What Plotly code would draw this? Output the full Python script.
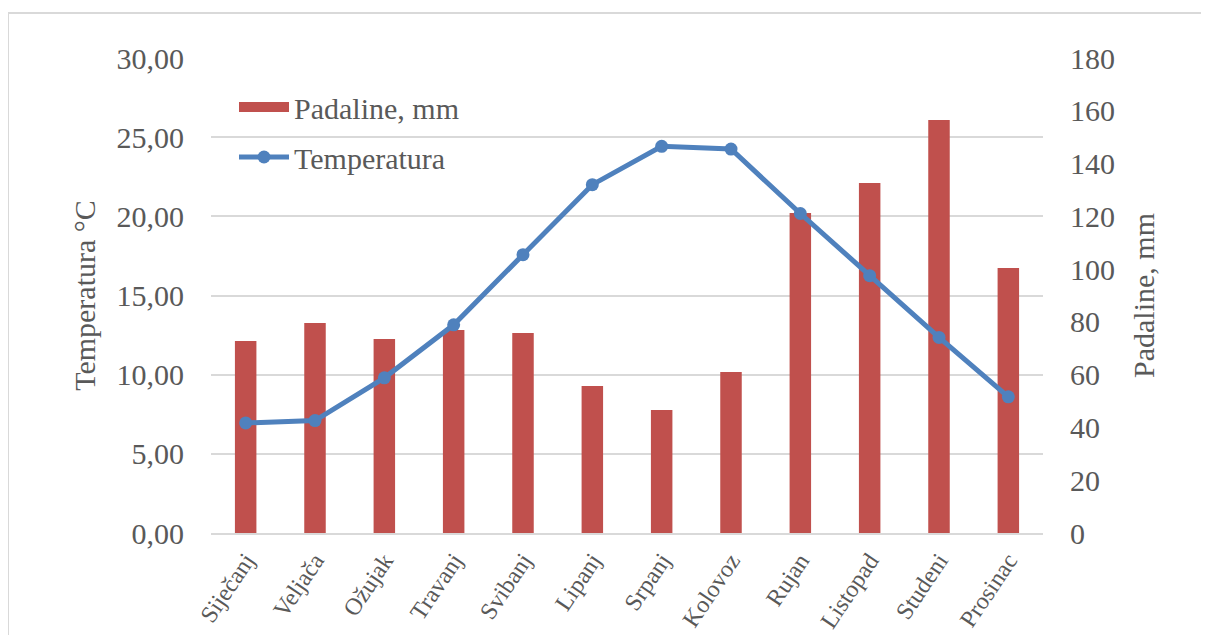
import plotly.graph_objects as go

months = ["Siječanj", "Veljača", "Ožujak", "Travanj", "Svibanj", "Lipanj",
          "Srpanj", "Kolovoz", "Rujan", "Listopad", "Studeni", "Prosinac"]
padaline = [72.8, 79.6, 73.5, 76.9, 75.8, 55.7, 46.6, 61.0, 121.3, 132.6, 156.5, 100.4]
temperatura = [6.95, 7.10, 9.80, 13.15, 17.58, 22.00, 24.42, 24.25, 20.18, 16.25, 12.35, 8.60]

temp_ticks = [0, 5, 10, 15, 20, 25, 30]
pad_ticks = [0, 20, 40, 60, 80, 100, 120, 140, 160, 180]

RED = "#C0504D"
BLUE = "#4F81BD"
GRAY = "#595959"
GRID = "#D9D9D9"
FONT = "Liberation Serif"

fig = go.Figure()

fig.add_trace(go.Bar(
    x=months, y=padaline, name="Padaline, mm", marker_color=RED,
    marker_line_width=0, yaxis="y", showlegend=False,
))
# legend entry for precipitation (wide rectangle like the original)
fig.add_trace(go.Scatter(
    x=[None], y=[None], mode="lines", name="Padaline, mm",
    line=dict(color=RED, width=15), yaxis="y", legendgroup="a",
))
fig.add_trace(go.Scatter(
    x=months, y=temperatura, name="Temperatura", mode="lines+markers",
    line=dict(color=BLUE, width=5), marker=dict(color=BLUE, size=13),
    yaxis="y2", legendgroup="b",
))

# page is shown with an 8px body margin, so figure coords = screen - 8
W, H = 1209, 635
L, R, T, B = 203, 1035, 50, 525

def px_x(p):
    return (p - L) / (R - L)

def px_y(p):
    return (B - p) / (B - T)

fig.update_layout(
    width=W, height=H,
    margin=dict(l=L, r=W - R, t=T, b=H - B, autoexpand=False),
    paper_bgcolor="white", plot_bgcolor="white",
    separators=", ",
    font=dict(family=FONT, color=GRAY, size=30),
    bargap=0.69,
    xaxis=dict(
        range=[-0.5, len(months) - 0.5],
        tickangle=-56, tickfont=dict(family=FONT, size=24, color=GRAY),
        showline=True, linecolor=GRID, linewidth=2,
        showgrid=False, ticks="", ticklen=0, automargin=False,
        ticklabelstandoff=2,
    ),
    yaxis=dict(
        side="right", range=[0, 180], tickvals=pad_ticks,
        showgrid=False, zeroline=False, ticks="", automargin=False,
        tickfont=dict(family=FONT, size=30, color=GRAY),
        ticklabelstandoff=26,
        title=dict(text="Padaline, mm", font=dict(family=FONT, size=30, color=GRAY), standoff=18),
    ),
    yaxis2=dict(
        side="left", overlaying="y", range=[0, 30], tickvals=temp_ticks,
        tickformat=".2f", showgrid=True, gridcolor=GRID, gridwidth=2,
        zeroline=False, ticks="", automargin=False,
        tickfont=dict(family=FONT, size=30, color=GRAY),
        ticklabelstandoff=26,
        title=dict(text="Temperatura °C", font=dict(family=FONT, size=30, color=GRAY), standoff=12),
    ),
    legend=dict(
        x=px_x(226), y=px_y(73), xanchor="left", yanchor="top",
        bgcolor="rgba(0,0,0,0)", font=dict(family=FONT, size=30, color=GRAY),
        itemwidth=50, traceorder="grouped", tracegroupgap=8,
    ),
    shapes=[dict(
        type="rect", xref="paper", yref="paper",
        x0=px_x(0), x1=px_x(1230), y0=px_y(660), y1=px_y(5),
        line=dict(color=GRID, width=2), fillcolor="rgba(0,0,0,0)", layer="below",
    )],
)

fig.write_html("out.html")
